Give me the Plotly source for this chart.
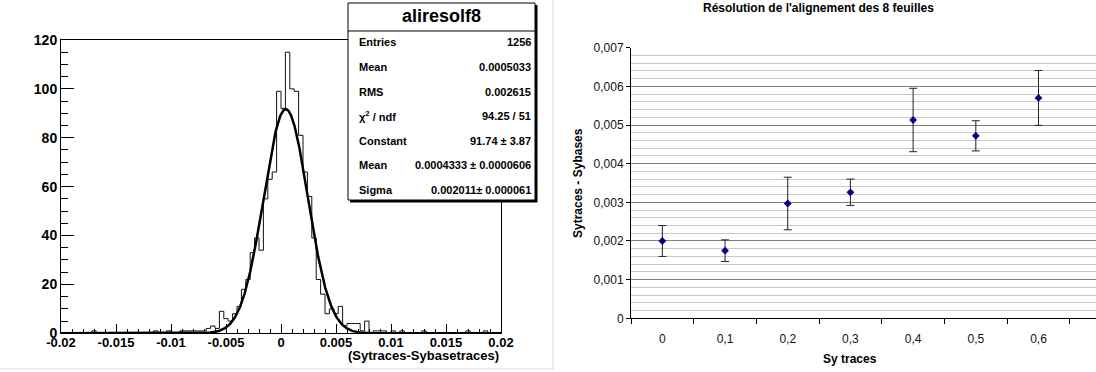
import numpy as np
import plotly.graph_objects as go

# ---------------- Left panel: ROOT histogram ----------------
hist_xmin = -0.02
hist_xmax = 0.02
hist_counts = [
    0, 0, 0, 0, 0, 0, 0, 1, 0, 0,
    0, 0, 0, 0, 0, 0, 0, 0, 0, 0,
    0, 1, 0, 0, 1, 0, 0, 1, 1, 1,
    1, 1, 1, 2, 3, 2, 9, 6, 5, 8,
    11, 18, 22, 33, 39, 34, 55, 63, 66, 99,
    92, 115, 100, 99, 81, 66, 56, 39, 22, 16,
    8, 10, 8, 11, 3, 4, 4, 4, 1, 5,
    0, 1, 1, 1, 0, 1, 0, 1, 0, 0,
    0, 0, 1, 0, 0, 0, 0, 0, 0, 0,
    0, 0, 1, 0, 0, 0, 1, 0, 0, 0,
]
fit_constant = 91.74
fit_mean = 0.0004333
fit_sigma = 0.002011

hist_xticks = [-0.02, -0.015, -0.01, -0.005, 0, 0.005, 0.01, 0.015, 0.02]
hist_xticklabels = ["-0.02", "-0.015", "-0.01", "-0.005", "0", "0.005", "0.01", "0.015", "0.02"]
hist_yticks = [0, 20, 40, 60, 80, 100, 120]
hist_yticklabels = ["0", "20", "40", "60", "80", "100", "120"]

stats_title = "aliresolf8"
stats_labels = ["Entries", "Mean", "RMS", "χ<sup>2</sup> / ndf", "Constant", "Mean", "Sigma"]
stats_values = ["1256", "0.0005033", "0.002615", "94.25 / 51", "91.74 ± 3.87",
                "0.0004333 ± 0.0000606", "0.002011± 0.000061"]

# ---------------- Right panel: Excel scatter ----------------
sy_traces = [0, 0.1, 0.2, 0.3, 0.4, 0.5, 0.6]
sy_labels = ["0", "0,1", "0,2", "0,3", "0,4", "0,5", "0,6"]
resolution = [0.00200, 0.00175, 0.00297, 0.00326, 0.00513, 0.00472, 0.00570]
resolution_err = [0.00040, 0.00028, 0.00068, 0.00034, 0.00082, 0.00039, 0.00071]
res_yticks = [0, 0.001, 0.002, 0.003, 0.004, 0.005, 0.006, 0.007]
res_yticklabels = ["0", "0,001", "0,002", "0,003", "0,004", "0,005", "0,006", "0,007"]
category_bounds = [-0.05, 0.05, 0.15, 0.25, 0.35, 0.45, 0.55, 0.65]

W, H = 1096, 372
def fx(p):
    return p / W
def fy(p):
    return 1 - p / H

FONT = "Liberation Sans, Arial, Helvetica, sans-serif"

fig = go.Figure()

# histogram outline
n = len(hist_counts)
bw = (hist_xmax - hist_xmin) / n
edges = hist_xmin + bw * np.arange(n + 1)
fig.add_trace(go.Scatter(
    x=edges, y=list(hist_counts) + [hist_counts[-1]],
    mode="lines", line=dict(shape="hv", color="#111111", width=1),
    xaxis="x", yaxis="y", showlegend=False, hoverinfo="skip"))

# gaussian fit
xf = np.linspace(hist_xmin, hist_xmax, 1601)
yf = fit_constant * np.exp(-0.5 * ((xf - fit_mean) / fit_sigma) ** 2)
fig.add_trace(go.Scatter(
    x=xf, y=yf, mode="lines", line=dict(color="black", width=2.5),
    xaxis="x", yaxis="y", showlegend=False, hoverinfo="skip"))

# scatter with error bars
fig.add_trace(go.Scatter(
    x=sy_traces, y=resolution, mode="markers",
    marker=dict(symbol="diamond", size=6, color="#000080"),
    error_y=dict(type="data", array=resolution_err, visible=True,
                 color="#222222", thickness=1, width=4),
    xaxis="x2", yaxis="y2", showlegend=False))

fig.update_layout(
    width=W, height=H, template="none",
    margin=dict(l=0, r=0, t=0, b=0),
    paper_bgcolor="white", plot_bgcolor="white",
    showlegend=False,
    xaxis=dict(
        domain=[fx(61), fx(501)], range=[hist_xmin, hist_xmax],
        tickmode="array", tickvals=hist_xticks, ticktext=hist_xticklabels,
        ticks="inside", ticklen=9, tickcolor="black", tickwidth=1,
        ticklabelstandoff=-3,
        minor=dict(ticks="inside", ticklen=4.5, tickcolor="black", dtick=0.001, tick0=0, showgrid=False),
        showline=True, linecolor="black", linewidth=1, mirror=True,
        showgrid=False, zeroline=False, automargin=False,
        tickfont=dict(family=FONT, size=13, color="black", weight="bold"),
        anchor="y",
    ),
    yaxis=dict(
        domain=[fy(333.3), fy(40)], range=[0, 120],
        tickmode="array", tickvals=hist_yticks, ticktext=hist_yticklabels,
        ticks="inside", ticklen=13, tickcolor="black", tickwidth=1,
        minor=dict(ticks="inside", ticklen=6.5, tickcolor="black", dtick=5, tick0=0, showgrid=False),
        showline=True, linecolor="black", linewidth=1, mirror=True,
        showgrid=False, zeroline=False, automargin=False,
        tickfont=dict(family=FONT, size=14, color="black", weight="bold"),
        anchor="x",
    ),
    xaxis2=dict(
        domain=[fx(631), 1.0], range=[-0.05, 0.6917],
        tickmode="array", tickvals=sy_traces, ticktext=sy_labels,
        ticks="", ticklabelstandoff=9,
        minor=dict(tickmode="array", tickvals=category_bounds, ticks="outside",
                   ticklen=5, tickcolor="black", showgrid=False),
        showline=True, linecolor="black", linewidth=1,
        showgrid=False, zeroline=False, automargin=False,
        tickfont=dict(family=FONT, size=12, color="#111111"),
        anchor="y2",
    ),
    yaxis2=dict(
        domain=[fy(318.3), fy(47.7)], range=[0, 0.007],
        tickmode="array", tickvals=res_yticks, ticktext=res_yticklabels,
        ticks="outside", ticklen=4, tickcolor="black",
        showgrid=True, gridcolor="#808080", gridwidth=1.2,
        minor=dict(dtick=0.0002, tick0=0, showgrid=True, gridcolor="#c8c8c8", gridwidth=1, ticks=""),
        showline=True, linecolor="black", linewidth=1,
        zeroline=False, automargin=False,
        tickfont=dict(family=FONT, size=12, color="#111111"),
        anchor="x2",
    ),
)

shapes = []
# stats box shadow + box
shapes.append(dict(type="rect", xref="paper", yref="paper",
                   x0=fx(350), x1=fx(537.5), y0=fy(202.5), y1=fy(5),
                   fillcolor="black", line=dict(width=0), layer="above"))
shapes.append(dict(type="rect", xref="paper", yref="paper",
                   x0=fx(348), x1=fx(535), y0=fy(200), y1=fy(3),
                   fillcolor="white", line=dict(color="black", width=1), layer="above"))
shapes.append(dict(type="line", xref="paper", yref="paper",
                   x0=fx(348), x1=fx(535), y0=fy(31), y1=fy(31),
                   line=dict(color="black", width=1), layer="above"))
# light border of left image
shapes.append(dict(type="line", xref="paper", yref="paper",
                   x0=0, x1=fx(553), y0=fy(369), y1=fy(369),
                   line=dict(color="#d9d9d9", width=1)))
shapes.append(dict(type="line", xref="paper", yref="paper",
                   x0=fx(553), x1=fx(553), y0=fy(369), y1=1,
                   line=dict(color="#d9d9d9", width=1)))
fig.update_layout(shapes=shapes)

ann = []
ann.append(dict(text=stats_title, x=fx(441.5), y=fy(16.5), xref="paper", yref="paper",
                xanchor="center", yanchor="middle", showarrow=False,
                font=dict(family=FONT, size=18, color="black", weight="bold")))
row_y = [42, 67, 92, 116, 141, 165, 190]
for lab, val, yy in zip(stats_labels, stats_values, row_y):
    ann.append(dict(text=lab, x=fx(357), y=fy(yy), xref="paper", yref="paper",
                    xanchor="left", yanchor="middle", showarrow=False,
                    font=dict(family=FONT, size=11, color="black", weight="bold")))
    ann.append(dict(text=val, x=fx(533), y=fy(yy), xref="paper", yref="paper",
                    xanchor="right", yanchor="middle", showarrow=False,
                    font=dict(family=FONT, size=11, color="black", weight="bold")))
ann.append(dict(text="(Sytraces-Sybasetraces)", x=fx(501), y=fy(355), xref="paper", yref="paper",
                xanchor="right", yanchor="middle", showarrow=False,
                font=dict(family=FONT, size=13, color="black", weight="bold")))
ann.append(dict(text="Résolution de l'alignement des 8 feuilles", x=fx(818), y=fy(8),
                xref="paper", yref="paper", xanchor="center", yanchor="middle", showarrow=False,
                font=dict(family=FONT, size=12, color="black", weight="bold")))
ann.append(dict(text="Sy traces", x=fx(850), y=fy(359), xref="paper", yref="paper",
                xanchor="center", yanchor="middle", showarrow=False,
                font=dict(family=FONT, size=12, color="black", weight="bold")))
ann.append(dict(text="Sytraces - Sybases", x=fx(578), y=fy(183), xref="paper", yref="paper",
                xanchor="center", yanchor="middle", showarrow=False, textangle=-90,
                font=dict(family=FONT, size=12, color="black", weight="bold")))
fig.update_layout(annotations=ann)

fig.write_html("out.html", config={"displayModeBar": False},
               post_script="document.body.style.margin='0';document.body.style.overflow='hidden';")
